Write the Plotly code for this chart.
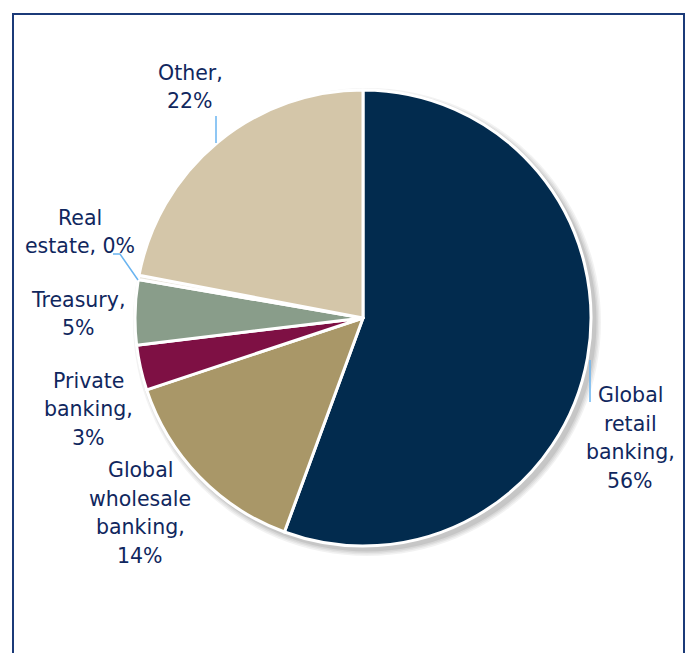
import plotly.graph_objects as go

# Revenue split by business line (share of total, %)
segments = ["Global retail banking", "Global wholesale banking", "Private banking",
            "Treasury", "Real estate", "Other"]
shares = [55.6, 14.3, 3.2, 4.6, 0.3, 22.0]
label_lines = [["Global", "retail", "banking,"],
               ["Global", "wholesale", "banking,"],
               ["Private", "banking,"],
               ["Treasury,"],
               ["Real", "estate,"],
               ["Other,"]]

colors = ["#022B4E", "#A99768", "#7E1044", "#899D8A", "#E8E4DA", "#D4C6A9"]

W, H = 686, 653
CX, CY, R = 363, 318, 228  # pie centre and radius in pixels (from top-left)
LINE_H = 28.5              # label line spacing in pixels

# label anchor points (pixel centres) and leader lines
label_pos = [(630, 438), (140, 513), (88, 409), (78, 314), (80, 232), (190, 87)]
leaders = [
    [(590, 360), (590, 402)],
    None, None, None,
    [(113, 254), (120, 254), (138, 280)],
    [(216, 116), (216, 143)],
]

def px(x):
    return x / W

def py(y):
    return 1 - y / H

total = sum(shares)
label_rows = []
for lines, v in zip(label_lines, shares):
    pct = f"{round(v / total * 100):.0f}%"
    if lines[-1] == "estate,":
        label_rows.append(lines[:-1] + [lines[-1] + " " + pct])
    else:
        label_rows.append(lines + [pct])

fig = go.Figure()
fig.add_trace(go.Pie(
    labels=segments,
    values=shares,
    sort=False,
    direction="clockwise",
    rotation=0,
    marker=dict(colors=colors, line=dict(color="white", width=3)),
    textinfo="none",
    hoverinfo="label+percent",
    showlegend=False,
    domain=dict(x=[px(CX - R), px(CX + R)], y=[py(CY + R), py(CY - R)]),
))

shapes = []
# soft drop shadow behind the pie
for i, a in enumerate([0.05, 0.05, 0.06, 0.08]):
    grow = 6 - i * 1.5
    ox, oy = 4, 4
    shapes.append(dict(type="circle", xref="paper", yref="paper", layer="below",
                       x0=px(CX - R - grow + ox), x1=px(CX + R + grow + ox),
                       y0=py(CY + R + grow + oy), y1=py(CY - R - grow + oy),
                       fillcolor=f"rgba(0,0,0,{a})", line=dict(width=0)))

# frame
shapes.append(dict(type="rect", xref="paper", yref="paper",
                   x0=px(13), x1=px(684), y0=-0.05, y1=py(14),
                   line=dict(color="#1B3A78", width=2)))

for seg in leaders:
    if seg:
        path = "M " + " L ".join(f"{px(x)},{py(y)}" for x, y in seg)
        shapes.append(dict(type="path", xref="paper", yref="paper", path=path,
                           line=dict(color="#6AB4F0", width=1.5)))

annotations = []
for rows, (x, y) in zip(label_rows, label_pos):
    top = y - (len(rows) - 1) * LINE_H / 2
    for k, row in enumerate(rows):
        annotations.append(dict(text=row, x=px(x), y=py(top + k * LINE_H),
                                xref="paper", yref="paper",
                                showarrow=False, xanchor="center", yanchor="middle",
                                font=dict(family="DejaVu Sans", size=20.5,
                                          color="#10275E")))

fig.update_layout(
    width=W, height=H,
    margin=dict(l=0, r=0, t=0, b=0),
    paper_bgcolor="white",
    plot_bgcolor="white",
    shapes=shapes,
    annotations=annotations,
)

fig.write_html("out.html")
